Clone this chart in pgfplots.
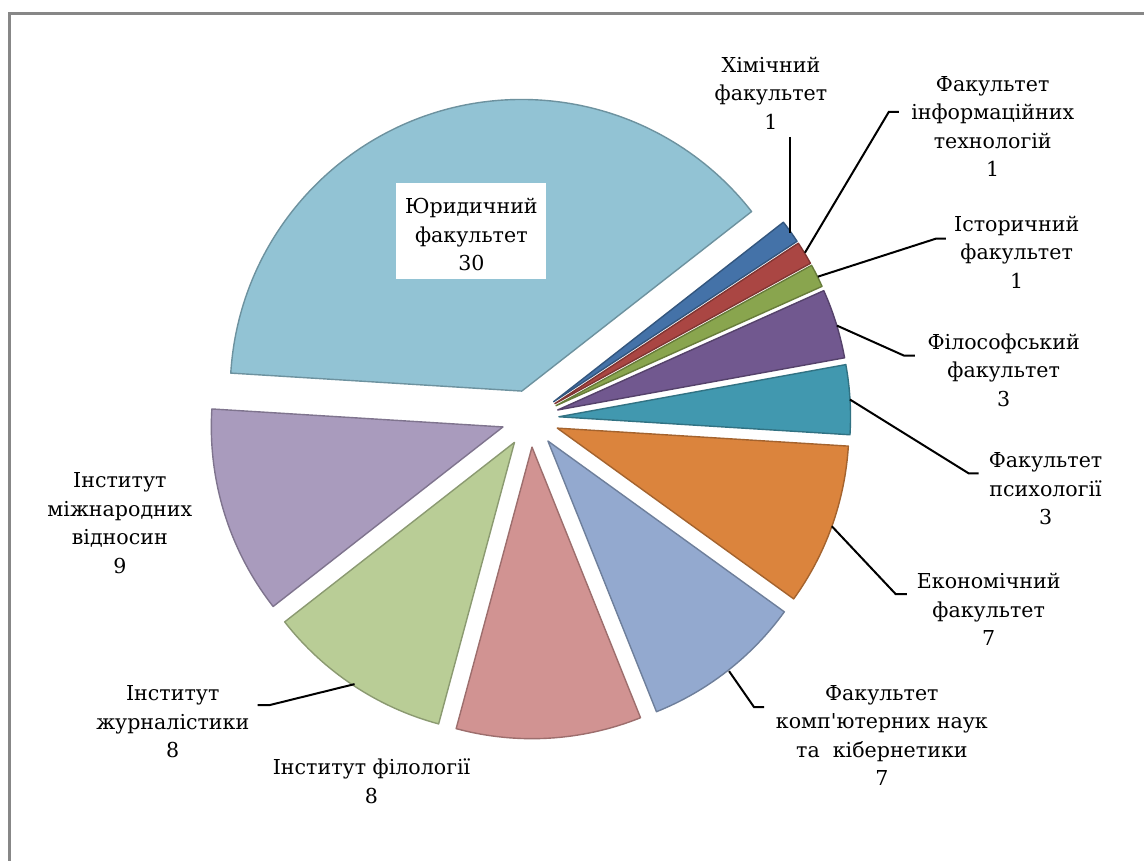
\documentclass[border=0pt]{standalone}
\usepackage{pgfplots}
\pgfplotsset{compat=1.18}
\usepackage{pgfplotstable}
\usepackage{fontspec}
\setmainfont{DejaVu Serif}
\newfontfamily\labelfont{DejaVu Serif}
\definecolor{c0}{HTML}{4472A8}
\definecolor{c1}{HTML}{AA4643}
\definecolor{c2}{HTML}{89A54E}
\definecolor{c3}{HTML}{71588F}
\definecolor{c4}{HTML}{4198AF}
\definecolor{c5}{HTML}{DB843D}
\definecolor{c6}{HTML}{93A9CF}
\definecolor{c7}{HTML}{D19392}
\definecolor{c8}{HTML}{B9CD96}
\definecolor{c9}{HTML}{A99BBD}
\definecolor{c10}{HTML}{92C3D4}
\definecolor{framegray}{HTML}{878787}
\pgfplotstableread{
idx val
0 1
1 1
2 1
3 3
4 3
5 7
6 7
7 8
8 8
9 9
10 30
}\pietable
\begin{document}
\begin{tikzpicture}
% precompute slice geometry from the table values
\gdef\pietotal{0}
\foreach \i in {0,...,10}{%
  \pgfplotstablegetelem{\i}{val}\of\pietable
  \pgfmathsetmacro\tmpsum{\pietotal+\pgfplotsretval}%
  \xdef\pietotal{\tmpsum}%
}
\pgfmathsetmacro\pieunit{360/\pietotal}
\xdef\pieunit{\pieunit}
\gdef\piecum{0}
\foreach \i in {0,...,10}{%
  \pgfplotstablegetelem{\i}{val}\of\pietable
  \let\pv\pgfplotsretval
  \pgfmathsetmacro\pa{38-\piecum*\pieunit}%
  \pgfmathsetmacro\pb{\pa-\pv*\pieunit}%
  \pgfmathsetmacro\pmid{(\pa+\pb)/2}%
  \pgfmathsetmacro\px{531+28.7*cos(\pmid)}%
  \pgfmathsetmacro\py{419-28.7*sin(\pmid)}%
  \expandafter\xdef\csname sA\i\endcsname{\pa}%
  \expandafter\xdef\csname sB\i\endcsname{\pb}%
  \expandafter\xdef\csname sX\i\endcsname{\px}%
  \expandafter\xdef\csname sY\i\endcsname{\py}%
  \pgfmathsetmacro\tmpc{\piecum+\pv}%
  \xdef\piecum{\tmpc}%
}
\begin{axis}[x=0.5pt, y=0.5pt, xmin=0, xmax=1145, ymin=0, ymax=862,
  y dir=reverse, hide axis, clip=false]
\pgfplotsextra{
  \fill[white] (axis cs:0,0) rectangle (axis cs:1145,862);
  \draw[framegray, line width=1.5pt] (axis cs:9.5,862) -- (axis cs:9.5,14) -- (axis cs:1145,14);
  \foreach \i in {0,...,10}{
    \edef\qa{\csname sA\i\endcsname}%
    \edef\qb{\csname sB\i\endcsname}%
    \edef\qx{\csname sX\i\endcsname}%
    \edef\qy{\csname sY\i\endcsname}%
    \filldraw[fill=c\i, draw=c\i!75!black, line width=0.7pt, line join=round]
      (axis cs:\qx,\qy) -- ++(\qa:146pt) arc[start angle=\qa, end angle=\qb, radius=146pt] -- cycle;
  }
  \begin{scope}[black, line width=1pt]
    \draw (axis cs:791,137) -- (axis cs:791,233);
    \draw (axis cs:900,112) -- (axis cs:890,112) -- (axis cs:806,253);
    \draw (axis cs:947,239) -- (axis cs:937,239) -- (axis cs:819,277);
    \draw (axis cs:916,356) -- (axis cs:905,356) -- (axis cs:838,326);
    \draw (axis cs:980,474) -- (axis cs:970,474) -- (axis cs:851,400);
    \draw (axis cs:908,595) -- (axis cs:897,595) -- (axis cs:833,527);
    \draw (axis cs:765,708) -- (axis cs:755,708) -- (axis cs:730,672);
    \draw (axis cs:258,706) -- (axis cs:270,706) -- (axis cs:355,685);
  \end{scope}
  \fill[white] (axis cs:397,183) rectangle (axis cs:547,279);
  \begin{scope}[every node/.style={align=center, text=black, inner sep=0pt,
      font=\labelfont\fontsize{10.3}{14.25}\selectfont}]
    \node at (axis cs:772,93) {Хімічний\\факультет\\1};
    \node at (axis cs:994,126.5) {Факультет\\інформаційних\\технологій\\1};
    \node at (axis cs:1018,252.5) {Історичний\\факультет\\1};
    \node at (axis cs:1005,370.5) {Філософський\\факультет\\3};
    \node at (axis cs:1047,489.5) {Факультет\\психології\\3};
    \node at (axis cs:990,610.5) {Економічний\\факультет\\7};
    \node at (axis cs:883,736.5) {Факультет\\комп'ютерних наук\\та\ \ кібернетики\\7};
    \node at (axis cs:372,782.5) {Інститут філології\\8};
    \node at (axis cs:173,723) {Інститут\\журналістики\\8};
    \node at (axis cs:120,524) {Інститут\\міжнародних\\відносин\\9};
    \node at (axis cs:472,235) {Юридичний\\факультет\\30};
  \end{scope}
}
\end{axis}
\end{tikzpicture}
\end{document}
